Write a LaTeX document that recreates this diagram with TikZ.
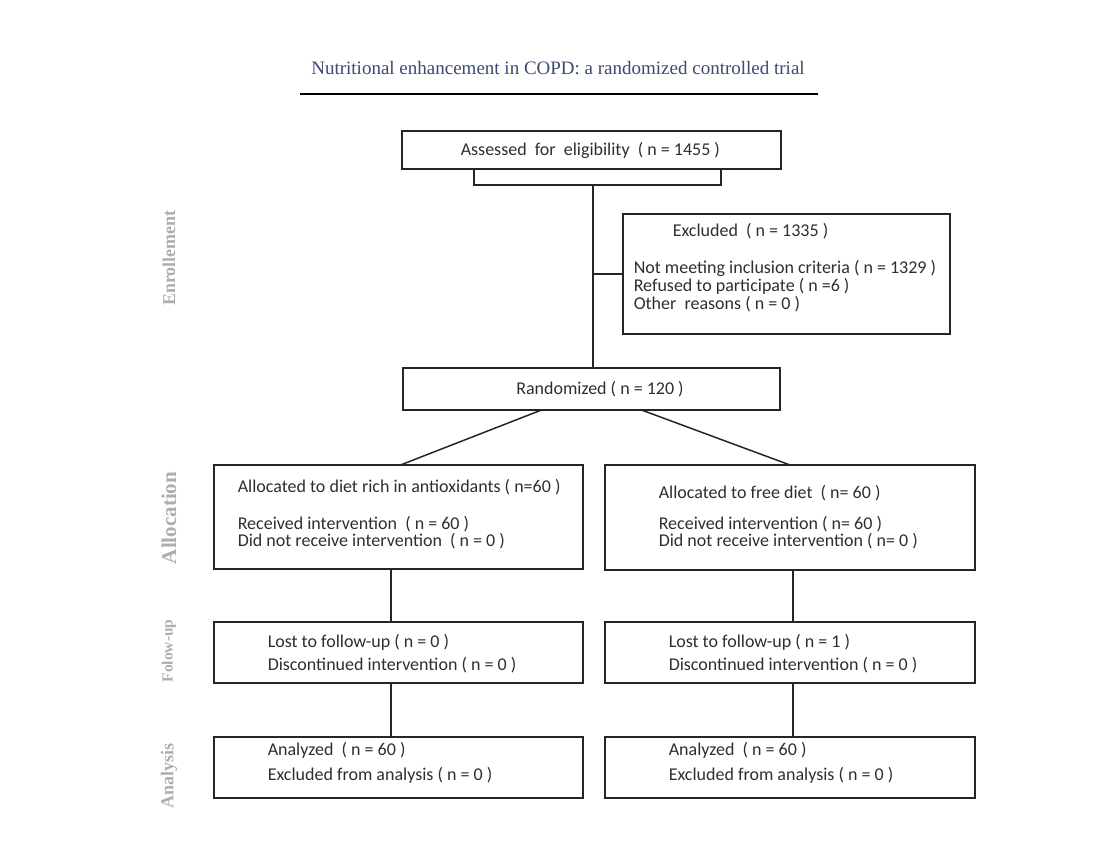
\documentclass[tikz,border=0pt]{standalone}
\usepackage{fontspec}
\setmainfont{Carlito}
\newfontfamily\titlefont{Liberation Serif}
\usetikzlibrary{positioning}
\definecolor{titleBlue}{HTML}{3B4A6E}
\definecolor{textGray}{HTML}{2E2E2E}
\definecolor{stageGray}{HTML}{ADADAD}

\begin{document}
\begin{tikzpicture}[x=1pt, y=-1pt, line width=1.5pt]
	\tikzstyle{boxStyle} = [draw=black!85, inner sep=0pt, outer sep=0pt]
	\tikzstyle{txtStyle} = [anchor=base west, inner sep=0pt, text=textGray, font=\fontsize{18}{18}\selectfont]
	\tikzstyle{stageStyle} = [rotate=90, inner sep=0pt, text=stageGray, font=\titlefont\bfseries]
	\useasboundingbox (0,0) rectangle (1108,866);
	% title
	\node[anchor=base, inner sep=0pt, text=titleBlue, font=\titlefont\fontsize{19}{22}\selectfont] (title) at (558,75) {Nutritional enhancement in COPD: a randomized controlled trial};
	\coordinate (ulL) at (300,94);
	\coordinate (ulR) at (818,94);
	\draw[line width=2pt] (ulL) -- (ulR);
	% stages
	\node[stageStyle, font=\titlefont\bfseries\fontsize{18}{20}\selectfont] (enrol) at (169,258) {Enrollement};
	\node[stageStyle, font=\titlefont\bfseries\fontsize{21}{24}\selectfont] (alloc) at (169,518) {Allocation};
	\node[stageStyle, font=\titlefont\bfseries\fontsize{15.5}{18}\selectfont] (follow) at (169,651) {Folow-up};
	\node[stageStyle, font=\titlefont\bfseries\fontsize{18}{20}\selectfont] (anal) at (169,776) {Analysis};
	% boxes
	\node[boxStyle, minimum width=379pt, minimum height=38pt] (assess) at (591.5,150) {};
	\node[boxStyle, minimum width=327pt, minimum height=120pt] (excl) at (786.5,274) {};
	\node[boxStyle, minimum width=377pt, minimum height=42pt] (rand) at (591.5,389) {};
	\node[boxStyle, minimum width=369pt, minimum height=104pt] (allocL) at (398.5,517) {};
	\node[boxStyle, minimum width=370pt, minimum height=105pt] (allocR) at (790,517.5) {};
	\node[boxStyle, minimum width=369pt, minimum height=61pt] (followL) at (398.5,652.5) {};
	\node[boxStyle, minimum width=370pt, minimum height=61pt] (followR) at (790,652.5) {};
	\node[boxStyle, minimum width=369pt, minimum height=61pt] (analL) at (398.5,767.5) {};
	\node[boxStyle, minimum width=370pt, minimum height=61pt] (analR) at (790,767.5) {};
	% texts
	\node[txtStyle] (assessT) at (460,156) {Assessed\ \ for\ \ eligibility\ \ ( n = 1455 )};
	\node[txtStyle] (exclT) at (672,237) {Excluded\ \ ( n = 1335 )};
	\node[txtStyle] (exclA) at (633,274) {Not meeting inclusion criteria ( n = 1329 )};
	\node[txtStyle] (exclB) at (633,292) {Refused to participate ( n =6 )};
	\node[txtStyle] (exclC) at (633,310) {Other\ \ reasons ( n = 0 )};
	\node[txtStyle, anchor=base] (randT) at (600,395) {Randomized ( n = 120 )};
	\node[txtStyle] (allocLa) at (237,492) {Allocated to diet rich in antioxidants ( n=60 )};
	\node[txtStyle] (allocLb) at (237,529) {Received intervention\ \ ( n = 60 )};
	\node[txtStyle] (allocLc) at (237,546) {Did not receive intervention\ \ ( n = 0 )};
	\node[txtStyle] (allocRa) at (658,498) {Allocated to free diet\ \ ( n= 60 )};
	\node[txtStyle] (allocRb) at (658,529) {Received intervention ( n= 60 )};
	\node[txtStyle] (allocRc) at (658,546) {Did not receive intervention ( n= 0 )};
	\node[txtStyle] (followLa) at (267,647) {Lost to follow-up ( n = 0 )};
	\node[txtStyle] (followLb) at (267,670) {Discontinued intervention ( n = 0 )};
	\node[txtStyle] (followRa) at (668,647) {Lost to follow-up ( n = 1 )};
	\node[txtStyle] (followRb) at (668,670) {Discontinued intervention ( n = 0 )};
	\node[txtStyle] (analLa) at (267,755) {Analyzed\ \ ( n = 60 )};
	\node[txtStyle] (analLb) at (267,780) {Excluded from analysis ( n = 0 )};
	\node[txtStyle] (analRa) at (668,755) {Analyzed\ \ ( n = 60 )};
	\node[txtStyle] (analRb) at (668,780) {Excluded from analysis ( n = 0 )};
	% connectors
	\coordinate (brL) at (474,185);
	\coordinate (brR) at (721,185);
	\coordinate (brM) at (593,185);
	\coordinate (vL) at (391,0);
	\coordinate (vR) at (793,0);
	\draw[draw=black!85] (brL |- assess.south) -- (brL) -- (brR) -- (brR |- assess.south);
	\draw[draw=black!85] (brM) -- (brM |- rand.north);
	\draw[draw=black!85] (brM |- excl.west) -- (excl.west);
	\draw[draw=black!85] ([xshift=-50pt]rand.south) -- ([xshift=2pt]allocL.north);
	\draw[draw=black!85] ([xshift=50pt]rand.south) -- ([xshift=0pt]allocR.north);
	\draw[draw=black!85] (vL |- allocL.south) -- (vL |- followL.north);
	\draw[draw=black!85] (vR |- allocR.south) -- (vR |- followR.north);
	\draw[draw=black!85] (vL |- followL.south) -- (vL |- analL.north);
	\draw[draw=black!85] (vR |- followR.south) -- (vR |- analR.north);
\end{tikzpicture}
\end{document}
